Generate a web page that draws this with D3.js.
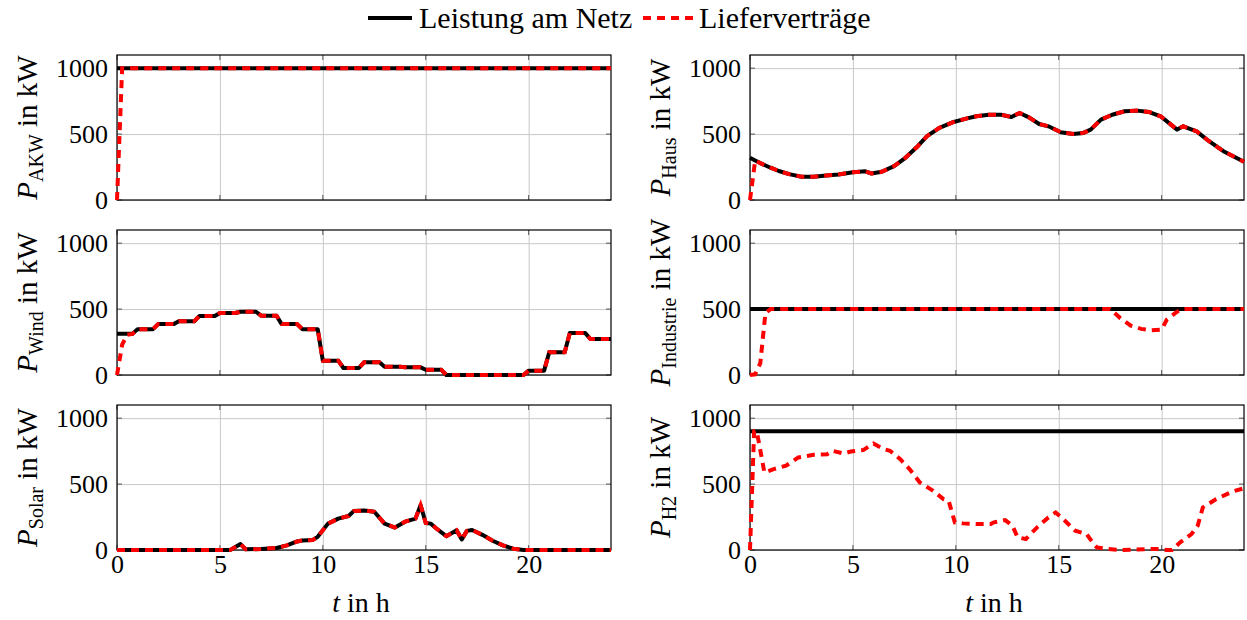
<!DOCTYPE html>
<html>

<head>
  <title>Leistung am Netz / Lieferverträge</title>
  <style>
    body { margin: 0; background: #fff; }
    text { font-family: "Liberation Serif", "Times New Roman", serif; fill: #000; }
  </style>
</head>

<body>
  <svg id="svg"></svg>

  <script src="https://d3js.org/d3.v7.min.js"></script>

  <script>
    // data, [t in h, P in kW]
    let akwNetz = [[0, 1000], [24, 1000]];
    let akwVertrag = [[0, 0], [0.25, 1000], [24, 1000]];

    let hausNetz = [[0, 320], [0.25, 300], [0.5, 280], [1.0, 245], [1.4, 220], [1.9, 196], [2.5, 177],
      [3.1, 177], [3.7, 186], [4.3, 194], [5.0, 210], [5.6, 218], [5.9, 201], [6.4, 214], [7.0, 257],
      [7.55, 320], [8.15, 408], [8.6, 484], [9.2, 547], [9.9, 592], [10.5, 617], [11.0, 635], [11.6, 647],
      [12.2, 647], [12.7, 630], [13.1, 660], [13.55, 627], [14.05, 577], [14.5, 559], [15.1, 514],
      [15.7, 501], [16.2, 509], [16.55, 534], [17.05, 610], [17.6, 647], [18.2, 673], [18.8, 678],
      [19.4, 667], [19.95, 635], [20.45, 572], [20.75, 534], [21.05, 559], [21.7, 521], [22.3, 446],
      [23.0, 370], [24, 290]];
    let hausVertragStart = [[0, 0], [0.25, 300]];

    // hourly wind values, each held for 45 min then ramped to the next hour
    let windStunden = [312, 348, 386, 407, 447, 470, 480, 450, 386, 348, 109, 53,
      96, 63, 58, 40, 0, 0, 0, 0, 33, 172, 318, 273];
    let windVertragStart = [[0, 0], [0.25, 230], [0.5, 305]];

    let solar = [[0, 0], [5.5, 0], [6.0, 45], [6.25, 5], [7.0, 8], [7.75, 15], [8.25, 35], [8.75, 65],
      [9.0, 72], [9.5, 75], [9.75, 100], [10.25, 200], [10.75, 238], [11.25, 258], [11.5, 295],
      [12.0, 300], [12.5, 290], [13.0, 200], [13.5, 170], [14.0, 215], [14.5, 238], [14.75, 340],
      [15.0, 205], [15.25, 200], [15.5, 165], [16.0, 105], [16.5, 150], [16.75, 80], [17.0, 145],
      [17.25, 152], [17.75, 115], [18.25, 70], [18.75, 35], [19.25, 10], [19.75, 0], [24, 0]];

    let industrieNetz = [[0, 500], [24, 500]];
    let industrieVertrag = [[0, 0], [0.25, 5], [0.5, 90], [0.75, 470], [1.0, 500], [17.5, 500],
      [18.0, 430], [18.5, 375], [19.0, 350], [19.5, 340], [20.0, 345], [20.25, 420], [20.75, 480],
      [21.0, 500], [24, 500]];

    let h2Netz = [[0, 900], [24, 900]];
    let h2Vertrag = [[0, 0], [0.2, 900], [0.32, 905], [0.45, 800], [0.7, 588], [1.15, 614], [1.75, 639],
      [2.35, 702], [3.1, 722], [3.75, 727], [4.0, 753], [4.55, 732], [4.9, 747], [5.5, 758], [6.0, 808],
      [6.5, 765], [6.8, 753], [7.3, 689], [7.75, 614], [8.25, 513], [8.9, 449], [9.4, 386], [9.65, 374],
      [9.95, 210], [10.35, 202], [11.0, 197], [11.7, 197], [11.85, 210], [12.4, 227], [12.75, 184],
      [13.0, 96], [13.4, 83], [13.95, 172], [14.5, 247], [14.85, 285], [15.3, 222], [15.8, 146],
      [16.35, 121], [16.7, 45], [16.85, 20], [17.35, 8], [18.0, 0], [19.75, 8], [20.25, 0], [20.5, 0],
      [20.9, 58], [21.45, 121], [21.75, 184], [22.0, 323], [22.65, 386], [23.45, 444], [24, 468]];

    let yTicks = [0, 500, 1000];
    let xTicks = [0, 5, 10, 15, 20];
    let legendLabels = ["Leistung am Netz", "Lieferverträge"];

    function windNetz() {
      let pts = [];
      windStunden.forEach((v, h) => {
        pts.push([h, v]);
        pts.push([Math.min(h + 0.75, 24), v]);
      });
      pts.push([24, windStunden[windStunden.length - 1]]);
      return pts;
    }

    let windNetzPts = windNetz();

    let panels = [
      { col: 0, row: 0, sub: "AKW", netz: akwNetz, vertrag: akwVertrag },
      { col: 1, row: 0, sub: "Haus", netz: hausNetz, vertrag: hausVertragStart.concat(hausNetz.filter(d => d[0] >= 0.5)) },
      { col: 0, row: 1, sub: "Wind", netz: windNetzPts, vertrag: windVertragStart.concat(windNetzPts.filter(d => d[0] >= 0.75)) },
      { col: 1, row: 1, sub: "Industrie", netz: industrieNetz, vertrag: industrieVertrag },
      { col: 0, row: 2, sub: "Solar", netz: solar, vertrag: solar },
      { col: 1, row: 2, sub: "H2", netz: h2Netz, vertrag: h2Vertrag }
    ];

    let width = 1247, height = 620;
    let colLeft = [117, 750];
    let panelWidth = 494;
    let rowTop = [55, 230, 405];
    let panelHeight = 145;

    let svg = d3.select("#svg").attr("width", width).attr("height", height);

    let xScale = d3.scaleLinear().domain([0, 24]).range([0, panelWidth]);
    let yScale = d3.scaleLinear().domain([0, 1100]).range([panelHeight, 0]);

    let line = d3.line()
      .x(d => xScale(d[0]))
      .y(d => yScale(d[1]));

    panels.forEach(p => {
      let g = svg.append("g")
        .attr("transform", `translate(${colLeft[p.col]}, ${rowTop[p.row]})`);

      // grid
      let gx = g.append("g")
        .attr("transform", `translate(0, ${panelHeight})`)
        .call(d3.axisBottom(xScale).tickValues(xTicks).tickSize(-panelHeight).tickFormat(""));
      let gy = g.append("g")
        .call(d3.axisLeft(yScale).tickValues(yTicks).tickSize(-panelWidth).tickFormat(""));
      [gx, gy].forEach(a => {
        a.select(".domain").remove();
        a.selectAll(".tick line").attr("stroke", "#c8c8c8").attr("stroke-width", 1);
      });

      // small inner ticks on all four sides
      let tickLen = 5;
      xTicks.forEach(t => {
        g.append("line").attr("x1", xScale(t)).attr("x2", xScale(t))
          .attr("y1", panelHeight).attr("y2", panelHeight - tickLen)
          .attr("stroke", "#555").attr("stroke-width", 1);
        g.append("line").attr("x1", xScale(t)).attr("x2", xScale(t))
          .attr("y1", 0).attr("y2", tickLen)
          .attr("stroke", "#555").attr("stroke-width", 1);
      });
      yTicks.forEach(t => {
        g.append("line").attr("x1", 0).attr("x2", tickLen)
          .attr("y1", yScale(t)).attr("y2", yScale(t))
          .attr("stroke", "#555").attr("stroke-width", 1);
        g.append("line").attr("x1", panelWidth - tickLen).attr("x2", panelWidth)
          .attr("y1", yScale(t)).attr("y2", yScale(t))
          .attr("stroke", "#555").attr("stroke-width", 1);
      });

      // frame
      g.append("rect")
        .attr("width", panelWidth).attr("height", panelHeight)
        .attr("fill", "none").attr("stroke", "#000").attr("stroke-width", 1.2);

      // y tick labels
      let ya = g.append("g")
        .call(d3.axisLeft(yScale).tickValues(yTicks).tickSize(0).tickPadding(9).tickFormat(d3.format("d")));
      ya.select(".domain").remove();
      ya.selectAll("text").attr("font-size", 26).attr("font-family", "Liberation Serif").attr("fill", "#000");

      if (p.row == 2) {
        let xa = g.append("g")
          .attr("transform", `translate(0, ${panelHeight})`)
          .call(d3.axisBottom(xScale).tickValues(xTicks).tickSize(0).tickPadding(5).tickFormat(d3.format("d")));
        xa.select(".domain").remove();
        xa.selectAll("text").attr("font-size", 26).attr("font-family", "Liberation Serif").attr("fill", "#000");

        let xl = g.append("text")
          .attr("x", panelWidth / 2 - 3).attr("y", panelHeight + 62)
          .attr("text-anchor", "middle").attr("font-size", 28);
        xl.append("tspan").attr("font-style", "italic").text("t");
        xl.append("tspan").text(" in h");
      }

      // y label
      let yl = g.append("text")
        .attr("transform", `translate(-80, ${panelHeight / 2}) rotate(-90)`)
        .attr("text-anchor", "middle").attr("font-size", 29);
      yl.append("tspan").attr("font-style", "italic").text("P");
      yl.append("tspan").attr("font-size", 20).attr("dy", 6).text(p.sub);
      yl.append("tspan").attr("dy", -6).text(" in kW");

      // lines
      g.append("path")
        .datum(p.netz)
        .attr("d", line)
        .attr("fill", "none").attr("stroke", "#000").attr("stroke-width", 4)
        .attr("stroke-linejoin", "round");
      g.append("path")
        .datum(p.vertrag)
        .attr("d", line)
        .attr("fill", "none").attr("stroke", "#ff0000").attr("stroke-width", 4)
        .attr("stroke-dasharray", "8,6");
    });

    // legend
    let legend = svg.append("g");
    legend.append("line").attr("x1", 368).attr("x2", 412).attr("y1", 18).attr("y2", 18)
      .attr("stroke", "#000").attr("stroke-width", 4);
    legend.append("text").attr("x", 419).attr("y", 28).attr("font-size", 30).text(legendLabels[0]);
    legend.append("line").attr("x1", 643).attr("x2", 693).attr("y1", 18).attr("y2", 18)
      .attr("stroke", "#ff0000").attr("stroke-width", 4).attr("stroke-dasharray", "8,6");
    legend.append("text").attr("x", 699).attr("y", 28).attr("font-size", 30).text(legendLabels[1]);
  </script>
</body>

</html>
